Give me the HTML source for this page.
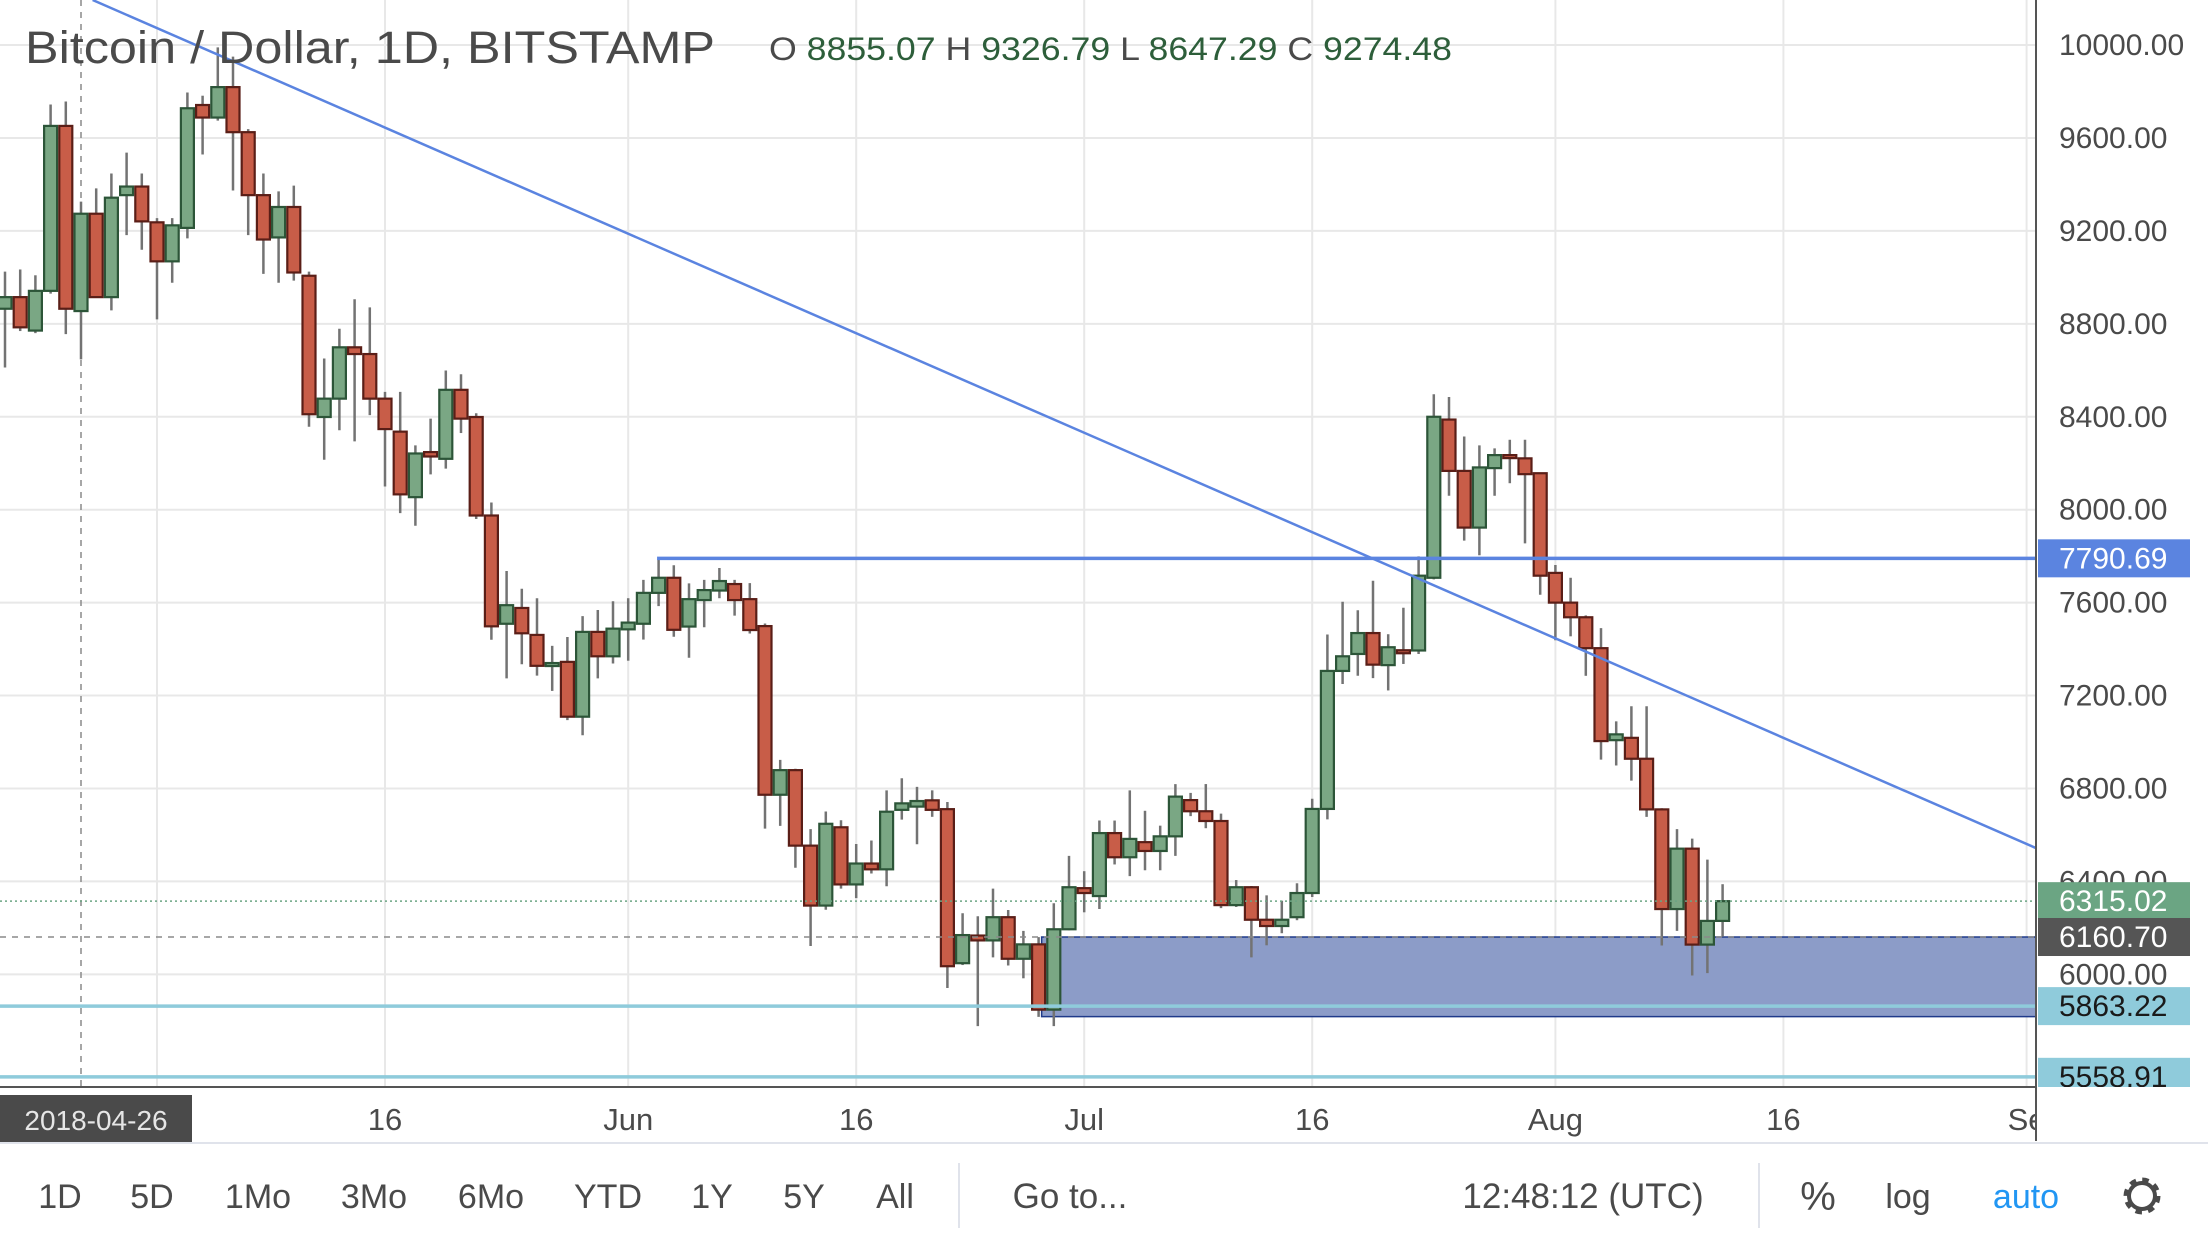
<!DOCTYPE html>
<html><head><meta charset="utf-8"><style>
html,body{margin:0;padding:0;background:#fff;}
svg{display:block;font-family:"Liberation Sans",sans-serif;}
</style></head><body>
<svg id="chart" width="2208" height="1242" viewBox="0 0 2208 1242" xmlns="http://www.w3.org/2000/svg">
<rect x="0" y="0" width="2208" height="1242" fill="#ffffff"/>
<g id="grid"></g>
<g id="drawings-back"></g>
<g id="candles"></g>
<g id="drawings-front"></g>
<g id="timeaxis"></g>
<g id="axis"></g>
<text x="25" y="63" font-size="45" fill="#4a4a4a" textLength="690" lengthAdjust="spacingAndGlyphs">Bitcoin / Dollar, 1D, BITSTAMP</text>
<text x="769" y="60" font-size="32" fill="#4a4a4a" textLength="683" lengthAdjust="spacingAndGlyphs">O <tspan fill="#2d5e3a">8855.07</tspan>  H <tspan fill="#2d5e3a">9326.79</tspan>  L <tspan fill="#2d5e3a">8647.29</tspan>  C <tspan fill="#2d5e3a">9274.48</tspan></text>
<g id="toolbar">
<line x1="0" y1="1143" x2="2208" y2="1143" stroke="#e0e3eb" stroke-width="2"/>
<text x="60" y="1208" font-size="34" fill="#4a4a4a" text-anchor="middle">1D</text>
<text x="152" y="1208" font-size="34" fill="#4a4a4a" text-anchor="middle">5D</text>
<text x="258" y="1208" font-size="34" fill="#4a4a4a" text-anchor="middle">1Mo</text>
<text x="374" y="1208" font-size="34" fill="#4a4a4a" text-anchor="middle">3Mo</text>
<text x="491" y="1208" font-size="34" fill="#4a4a4a" text-anchor="middle">6Mo</text>
<text x="608" y="1208" font-size="34" fill="#4a4a4a" text-anchor="middle">YTD</text>
<text x="712" y="1208" font-size="34" fill="#4a4a4a" text-anchor="middle">1Y</text>
<text x="804" y="1208" font-size="34" fill="#4a4a4a" text-anchor="middle">5Y</text>
<text x="895" y="1208" font-size="34" fill="#4a4a4a" text-anchor="middle">All</text>
<line x1="959" y1="1163" x2="959" y2="1228" stroke="#e0e3eb" stroke-width="2"/>
<text x="1070" y="1208" font-size="35" fill="#4a4a4a" text-anchor="middle">Go to...</text>
<text x="1583" y="1208" font-size="35" fill="#4a4a4a" text-anchor="middle">12:48:12 (UTC)</text>
<line x1="1759" y1="1163" x2="1759" y2="1228" stroke="#e0e3eb" stroke-width="2"/>
<text x="1818" y="1210" font-size="40" fill="#4a4a4a" text-anchor="middle">%</text>
<text x="1908" y="1208" font-size="34" fill="#4a4a4a" text-anchor="middle">log</text>
<text x="2026" y="1208" font-size="34" fill="#2196f3" text-anchor="middle">auto</text>
<g transform="translate(2142,1196)">
<circle r="15" fill="none" stroke="#4a4a4a" stroke-width="7" stroke-dasharray="6 5.8"/>
<circle r="13" fill="none" stroke="#4a4a4a" stroke-width="4"/>
<circle r="6" fill="#fff" stroke="none"/>
</g>
</g>
</svg>
<script>
const opens=[8865,8915,8771,8942,9652,8855,9274,8915,9354,9391,9237,9069,9213,9742,9688,9819,9625,9354,9172,9303,9007,8399,8478,8699,8670,8478,8336,8054,8248,8219,8516,8399,7975,7509,7577,7461,7339,7345,7109,7474,7369,7485,7509,7642,7707,7497,7611,7652,7680,7615,7499,6773,6879,6554,6296,6633,6387,6477,6452,6708,6722,6749,6711,6048,6167,6146,6246,6067,6129,5848,6194,6371,6337,6608,6504,6569,6531,6594,6750,6702,6660,6298,6375,6235,6208,6246,6350,6712,7306,7379,7469,7331,7395,7394,7707,8388,8167,7923,8179,8235,8221,8157,7728,7600,7537,7404,7008,7018,6928,6710,6281,6541,6128,6230];
const highs=[9025,9034,9009,9744,9757,9326,9383,9447,9537,9447,9255,9255,9796,9782,9990,9950,9638,9447,9370,9395,9025,8651,8779,8906,8871,8507,8507,8277,8392,8599,8583,8415,8031,7736,7660,7619,7414,7452,7542,7568,7606,7619,7698,7788,7761,7683,7698,7749,7698,7684,7510,6923,6885,6625,6701,6663,6561,6576,6792,6844,6807,6792,6742,6263,6250,6369,6277,6187,6160,6306,6510,6444,6662,6662,6792,6704,6640,6819,6781,6819,6692,6406,6380,6340,6317,6392,6756,7463,7604,7567,7694,7464,7578,7799,8497,8485,8315,8277,8264,8301,8301,8160,7762,7707,7545,7490,7089,7154,7154,6715,6625,6584,6494,6388];
const lows=[8612,8769,8760,8930,8756,8647,8915,8858,9182,9119,8819,8977,9168,9529,9675,9374,9182,9015,8977,8986,8357,8215,8342,8294,8407,8100,7985,7931,8152,8177,8330,7960,7440,7274,7335,7286,7220,7094,7029,7274,7338,7350,7441,7585,7453,7363,7494,7619,7544,7467,6627,6639,6459,6122,6278,6369,6328,6434,6379,6666,6560,6678,5941,6040,5777,6073,6038,5983,5817,5777,6190,6267,6281,6473,6423,6448,6448,6510,6681,6629,6285,6290,6073,6125,6177,6233,6333,6667,7250,7285,7275,7222,7336,7379,7700,8060,7867,7804,8060,8114,7855,7634,7438,7455,7285,6924,6899,6834,6678,6124,6187,5995,6005,6162];
const closes=[8915,8785,8942,9652,8865,9274,8915,9343,9391,9241,9069,9224,9728,9688,9819,9625,9354,9163,9303,9021,8411,8478,8699,8670,8478,8347,8066,8242,8229,8516,8392,7975,7498,7589,7468,7328,7340,7109,7474,7369,7488,7514,7642,7707,7483,7615,7654,7693,7611,7482,6773,6879,6554,6296,6648,6387,6477,6452,6700,6736,6746,6708,6035,6169,6146,6246,6067,6129,5848,6194,6375,6350,6608,6504,6583,6531,6594,6765,6702,6660,6298,6375,6235,6208,6235,6350,6712,7306,7369,7469,7333,7408,7394,7716,8400,8167,7923,8182,8235,8225,8153,7716,7600,7537,7404,7004,7033,6928,6710,6281,6541,6128,6230,6315];
const priceTicks=[10000,9600,9200,8800,8400,8000,7600,7200,6800,6400,6000];
const timeTickIdx=[10,25,41,56,71,86,102,117,133];
const timeTickLabels=["","16","Jun","16","Jul","16","Aug","16","Se"];
const markerPrices=[7790.69,6315.02,6160.70,5863.22,5558.91];
const trendIdx=[14.8,133.6];
const trendPrices=[9936,6544];
const zoneIdx=[68.2];
const zonePrices=[6160.70,5818];
const resistanceStartIdx=[42.9];

const NS="http://www.w3.org/2000/svg";
const PLOT_R=2036, PLOT_B=1087;
function xOf(i){return 5+15.2*i;}
function yOf(p){return 45.06+(10000-p)*0.23232;}
function mk(tag,attrs,parent){const e=document.createElementNS(NS,tag);for(const k in attrs)e.setAttribute(k,attrs[k]);parent.appendChild(e);return e;}

const grid=document.getElementById('grid');
priceTicks.forEach(p=>{
  const l=mk('line',{x1:0,x2:PLOT_R,y1:yOf(p),y2:yOf(p),stroke:'#e8e8e8','stroke-width':2},grid);
  
  
});
timeTickIdx.forEach(i=>{
  const l=mk('line',{x1:xOf(i),x2:xOf(i),y1:0,y2:PLOT_B,stroke:'#e8e8e8','stroke-width':2},grid);
  
  
});

const back=document.getElementById('drawings-back');
const ch=mk('line',{x1:xOf(5),x2:xOf(5),y1:0,y2:PLOT_B,stroke:'#8a8a8a','stroke-width':1.5,'stroke-dasharray':'6 6'},back);


const zx=xOf(zoneIdx[0]);
const zr=mk('rect',{x:zx,y:yOf(zonePrices[0]),width:PLOT_R-zx,height:yOf(zonePrices[1])-yOf(zonePrices[0]),fill:'#8c9cc8',stroke:'#1f3a8a','stroke-width':1.5},back);



const cg=document.getElementById('candles');
for(let i=0;i<opens.length;i++){
  const o=opens[i],h=highs[i],l=lows[i],c=closes[i];
  const up=c>=o;
  const x=xOf(i);
  const w=mk('line',{x1:x,x2:x,y1:yOf(h),y2:yOf(l),stroke:'#737373','stroke-width':2.5},cg);
  
  
  const top=yOf(Math.max(o,c)),bot=yOf(Math.min(o,c));
  const b=mk('rect',{x:x-6.5,y:top,width:13,height:Math.max(bot-top,3),fill:up?'#7aa784':'#c85d48',stroke:up?'#2c5538':'#5a1e17','stroke-width':2.2},cg);
  
  
}

const front=document.getElementById('drawings-front');
const chh=mk('line',{x1:0,x2:PLOT_R,y1:yOf(markerPrices[2]),y2:yOf(markerPrices[2]),stroke:'#8a8a8a','stroke-width':1.5,'stroke-dasharray':'6 6'},front);


const lp=mk('line',{x1:0,x2:PLOT_R,y1:yOf(markerPrices[1]),y2:yOf(markerPrices[1]),stroke:'#6ba583','stroke-width':1.5,'stroke-dasharray':'2 3'},front);


[markerPrices[3],markerPrices[4]].forEach(p=>{
  const s=mk('line',{x1:0,x2:PLOT_R,y1:yOf(p),y2:yOf(p),stroke:'#8fcbdb','stroke-width':3.5},front);
  
  
});
const rl=mk('line',{x1:xOf(resistanceStartIdx[0]),x2:PLOT_R,y1:yOf(markerPrices[0]),y2:yOf(markerPrices[0]),stroke:'#5b84e0','stroke-width':3.5},front);


const slope=(yOf(trendPrices[1])-yOf(trendPrices[0]))/(xOf(trendIdx[1])-xOf(trendIdx[0]));
const tx0=xOf(trendIdx[0])-(yOf(trendPrices[0])-0)/slope;
const tl=mk('line',{x1:tx0,y1:0,x2:xOf(trendIdx[1]),y2:yOf(trendPrices[1]),stroke:'#5b84e0','stroke-width':2.5},front);



const ta=document.getElementById('timeaxis');
mk('rect',{x:0,y:PLOT_B,width:2208,height:1143-PLOT_B,fill:'#fff'},ta);
const tal=mk('line',{x1:0,x2:PLOT_R,y1:PLOT_B,y2:PLOT_B,stroke:'#555','stroke-width':2},ta);


timeTickIdx.forEach((i,k)=>{
  if(!timeTickLabels[k])return;
  const t=mk('text',{x:xOf(i),y:1130,'font-size':31,fill:'#4a4a4a','text-anchor':'middle'},ta);
  t.textContent=timeTickLabels[k];
  
  
});
const db=mk('rect',{x:0,y:1095,width:192,height:48,fill:'#4a4a4a'},ta);


const dt=mk('text',{x:96,y:1130,'font-size':28,fill:'#e6e6e6','text-anchor':'middle'},ta);
dt.textContent='2018-04-26';



const ax=document.getElementById('axis');
mk('rect',{x:PLOT_R,y:0,width:2208-PLOT_R,height:1141,fill:'#fff'},ax);
const al=mk('line',{x1:PLOT_R,x2:PLOT_R,y1:0,y2:1141,stroke:'#555','stroke-width':2},ax);


priceTicks.forEach(p=>{
  const t=mk('text',{x:2059,y:yOf(p)+10,'font-size':30,fill:'#4a4a4a'},ax);
  t.textContent=p.toFixed(2);
  
  
});
const mColors=['#5b84e0','#6ba583','#555555','#8fcbdb','#8fcbdb'];
const mText=['#fff','#fff','#fff','#1a1a1a','#1a1a1a'];
markerPrices.forEach((p,k)=>{
  const y=yOf(p);
  const r=mk('rect',{x:PLOT_R+2,y:y-19,width:152,height:38,fill:mColors[k]},ax);
  
  
  const t=mk('text',{x:2059,y:y+10,'font-size':30,fill:mText[k]},ax);
  t.textContent=p.toFixed(2);
  
  
});
mk('rect',{x:PLOT_R+1,y:PLOT_B,width:2208-PLOT_R,height:54,fill:'#fff'},ax);
</script>
</body></html>
